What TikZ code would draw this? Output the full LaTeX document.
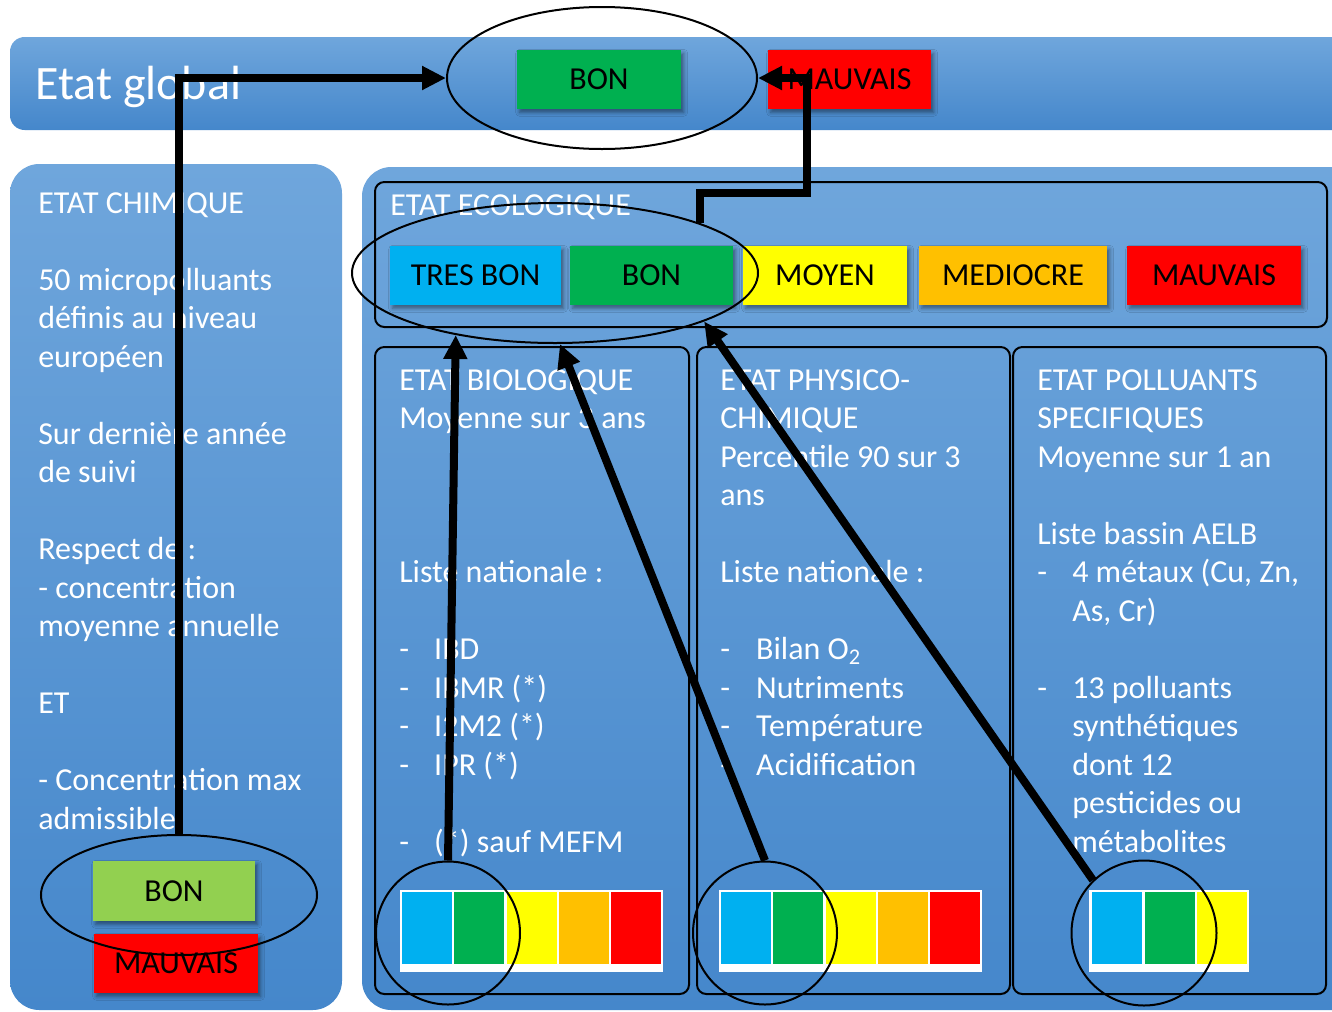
\documentclass[tikz,border=0pt]{standalone}
\usepackage{fontspec}
\setmainfont{Carlito}
\usetikzlibrary{shapes.geometric,arrows.meta,shadows.blur}
\definecolor{cyanC}{HTML}{00B0F0}
\definecolor{greenC}{HTML}{00B050}
\definecolor{lgreenC}{HTML}{92D050}
\definecolor{yellowC}{HTML}{FFFF00}
\definecolor{orangeC}{HTML}{FFC000}
\definecolor{redC}{HTML}{FF0000}
\definecolor{panelTop}{HTML}{6FA6DC}
\definecolor{panelBot}{HTML}{4587CB}
\newcommand\dashitem[1]{\makebox[26.25pt][l]{-}#1}
\newcommand\ind{\hspace*{26.25pt}}
\begin{document}
\begin{tikzpicture}[x=0.75pt,y=-0.75pt,
  panel/.style={top color=panelTop,bottom color=panelBot,draw=none},
  frame/.style={draw=black,line width=1.5pt,rounded corners=7pt},
  lvl/.style={rectangle,inner sep=0pt,minimum height=44.25pt,
    font=\fontsize{24pt}{28.875pt}\selectfont,text=black,
    blur shadow={shadow xshift=2pt,shadow yshift=-2.5pt,shadow opacity=45,shadow blur radius=3pt}},
  ptxt/.style={anchor=base west,inner sep=0pt,text=white,font=\fontsize{24pt}{28.875pt}\selectfont},
  ring/.style={ellipse,draw=black,line width=1.5pt,inner sep=0pt},
  arr/.style={line width=6pt,-{Triangle[length=18pt,width=17pt]}},
]
\clip (0,0) rectangle (1332,1011);
\fill[white] (0,0) rectangle (1332,1011);

% panels
\path[panel,rounded corners=11pt] (10,37) rectangle (1360,130);
\path[panel,rounded corners=22pt] (10,164) rectangle (342,1010);
\path[panel,rounded corners=22pt] (362,167) rectangle (1370,1010);

% frames
\draw[frame] (375,182) rectangle (1327,327);
\draw[frame] (375,347) rectangle (689,994);
\draw[frame] (697,347) rectangle (1010,994);
\draw[frame] (1013,347) rectangle (1326,994);

% title
\node[anchor=base west,inner sep=0pt,text=white,font=\fontsize{36pt}{43pt}\selectfont] (title) at (35,99) {Etat global};

% level boxes
\node[lvl,fill=greenC,minimum width=123pt] (gbon) at (599,79.5) {BON};
\node[lvl,fill=redC,minimum width=122.25pt] (gmau) at (849.5,79.5) {MAUVAIS};

\node[lvl,fill=cyanC,minimum width=128.25pt] (etb) at (475.5,275.5) {TRES BON};
\node[lvl,fill=greenC,minimum width=122.25pt] (ebon) at (651.5,275.5) {BON};
\node[lvl,fill=yellowC,minimum width=123pt] (emoy) at (825,275.5) {MOYEN};
\node[lvl,fill=orangeC,minimum width=141pt] (emed) at (1013,275.5) {MEDIOCRE};
\node[lvl,fill=redC,minimum width=130.5pt] (emau) at (1214,275.5) {MAUVAIS};

\node[lvl,fill=lgreenC,minimum width=121.5pt,minimum height=45pt] (cbon) at (174,891) {BON};
\node[lvl,fill=redC,minimum width=123pt] (cmau) at (176,963.5) {MAUVAIS};

% texts
\node[ptxt] (ecotitle) at (390,215) {ETAT ECOLOGIQUE};
\node[ptxt] (chemtxt) at (38,213) {\parbox[t]{300pt}{\raggedright
ETAT CHIMIQUE\\[28.875pt]
50 micropolluants\\
définis au niveau\\
européen\\[28.875pt]
Sur dernière année\\
de suivi\\[28.875pt]
Respect de :\\
- concentration\\
moyenne annuelle\\[28.875pt]
ET\\[28.875pt]
- Concentration max\\
admissible}};
\node[ptxt] (biotxt) at (399,390) {\parbox[t]{280pt}{\raggedright
ETAT BIOLOGIQUE\\
Moyenne sur 3 ans\\[86.625pt]
Liste nationale :\\[28.875pt]
\dashitem{IBD}\\
\dashitem{IBMR (*)}\\
\dashitem{I2M2 (*)}\\
\dashitem{IPR (*)}\\[28.875pt]
\dashitem{(*) sauf MEFM}}};
\node[ptxt] (phytxt) at (720,390) {\parbox[t]{280pt}{\raggedright
ETAT PHYSICO-\\
CHIMIQUE\\
Percentile 90 sur 3\\
ans\\[28.875pt]
Liste nationale :\\[28.875pt]
\makebox[27pt][l]{-}Bilan O\textsubscript{2}\\
\makebox[27pt][l]{-}Nutriments\\
\makebox[27pt][l]{-}Température\\
\makebox[27pt][l]{-}Acidification}};
\node[ptxt] (poltxt) at (1037,390) {\parbox[t]{280pt}{\raggedright
ETAT POLLUANTS\\
SPECIFIQUES\\
Moyenne sur 1 an\\[28.875pt]
Liste bassin AELB\\
\dashitem{4 métaux (Cu, Zn,}\\
\ind As, Cr)\\[28.875pt]
\dashitem{13 polluants}\\
\ind synthétiques\\
\ind dont 12\\
\ind pesticides ou\\
\ind métabolites}};

% colour bars
\fill[white] (400,890) rectangle (663,972);
\foreach \i/\c in {0/cyanC,1/greenC,2/yellowC,3/orangeC,4/redC}
  \fill[\c] ({402+52.3*\i},892) rectangle ++(50,72);
\fill[white] (719,890) rectangle (982,972);
\foreach \i/\c in {0/cyanC,1/greenC,2/yellowC,3/orangeC,4/redC}
  \fill[\c] ({721+52.3*\i},892) rectangle ++(50,72);
\fill[white] (1089,890) rectangle (1249,972);
\foreach \i/\c in {0/cyanC,1/greenC,2/yellowC}
  \fill[\c] ({1092+52.5*\i},892) rectangle ++(50,72);

% rings
\node[ring,minimum width=232.5pt,minimum height=106.5pt] (topE) at (602,78) {};
\node[ring,minimum width=304.5pt,minimum height=105pt] (ecoE) at (555,273) {};
\node[ring,minimum width=207pt,minimum height=90pt] (chemE) at (179,895) {};
\node[ring,minimum width=108pt,minimum height=107.25pt] (bioE) at (448,933) {};
\node[ring,minimum width=108pt,minimum height=107.25pt] (phyE) at (765,933) {};
\node[ring,minimum width=108.75pt,minimum height=108.75pt] (polE) at (1144,933) {};
\coordinate (bend) at (807,193);

% arrows
\draw[arr] (chemE.north) |- (topE.west);
\draw[arr] (ecoE.19) |- (bend) |- (topE.east);
\draw[arr] (bioE.north) -- (ecoE.212.7);
\draw[arr] (phyE.north) -- (ecoE.274);
\draw[arr] (polE.134) -- (ecoE.342.4);
\end{tikzpicture}
\end{document}
